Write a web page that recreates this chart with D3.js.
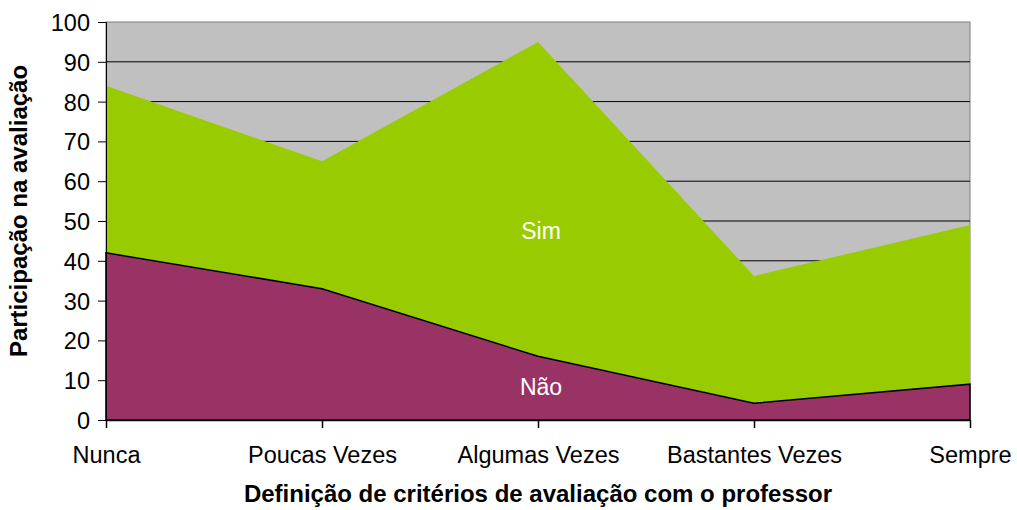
<!DOCTYPE html>
<html>
<head>
<meta charset="utf-8">
<script src="https://cdn.jsdelivr.net/npm/d3@7"></script>
<style>
  body { margin: 0; background: #fff; }
  text { font-family: "Liberation Sans", Arial, sans-serif; }
</style>
</head>
<body>
<div id="chart"></div>
<script>
// Chart data
const categories = ['Nunca', 'Poucas Vezes', 'Algumas Vezes', 'Bastantes Vezes', 'Sempre'];
const naoValues = [42, 33, 16, 4.2, 9];
const simValues = [42, 32, 79, 32, 40];
const yTicks = [0, 10, 20, 30, 40, 50, 60, 70, 80, 90, 100];

const w = 1017;
const h = 510;
const plotLeft = 106, plotRight = 970, plotTop = 22, plotBottom = 420;

const svg = d3.select('#chart')
  .append('svg')
  .attr('width', w)
  .attr('height', h);

const xscale = d3.scalePoint().domain(categories).range([plotLeft, plotRight]);
const yscale = d3.scaleLinear().domain([0, 100]).range([plotBottom, plotTop]);

// plot background
svg.append('rect')
  .attr('x', plotLeft).attr('y', plotTop)
  .attr('width', plotRight - plotLeft).attr('height', plotBottom - plotTop)
  .attr('fill', '#c0c0c0')
  .attr('stroke', '#808080')
  .attr('stroke-width', 1);

// gridlines
svg.append('g')
  .selectAll('line')
  .data(yTicks.filter((t) => t > 0 && t < 100))
  .enter()
  .append('line')
  .attr('x1', plotLeft).attr('x2', plotRight)
  .attr('y1', (d) => yscale(d)).attr('y2', (d) => yscale(d))
  .attr('stroke', '#000')
  .attr('stroke-width', 1);

// stacked areas
const rows = categories.map((c, i) => ({ cat: c, nao: naoValues[i], sim: simValues[i] }));
const stack = d3.stack().keys(['nao', 'sim'])(rows);
const colors = { nao: '#993366', sim: '#99cc00' };

const area = d3.area()
  .x((d) => xscale(d.data.cat))
  .y0((d) => yscale(d[0]))
  .y1((d) => yscale(d[1]));

svg.append('g')
  .selectAll('path')
  .data(stack.slice().reverse())
  .enter()
  .append('path')
  .attr('d', area)
  .attr('fill', (d) => colors[d.key])
  .attr('stroke', (d) => (d.key === 'nao' ? '#000' : 'none'))
  .attr('stroke-width', 1.5);

// area labels
svg.append('text')
  .attr('x', xscale('Algumas Vezes') + 3)
  .attr('y', 239)
  .attr('text-anchor', 'middle')
  .attr('fill', '#fff')
  .style('font-size', '23px')
  .text('Sim');
svg.append('text')
  .attr('x', xscale('Algumas Vezes') + 3)
  .attr('y', 395)
  .attr('text-anchor', 'middle')
  .attr('fill', '#fff')
  .style('font-size', '23px')
  .text('Não');

// axes
const yAxis = d3.axisLeft(yscale).tickValues(yTicks).tickSize(8).tickPadding(8);
const yg = svg.append('g')
  .attr('transform', 'translate(' + plotLeft + ', 0)')
  .call(yAxis);
yg.selectAll('text').style('font-size', '23.5px').attr('fill', '#000').attr('dy', '0.36em');
yg.selectAll('line, path').attr('stroke', '#000');

const xAxis = d3.axisBottom(xscale).tickSize(8).tickSizeOuter(0).tickPadding(18);
const xg = svg.append('g')
  .attr('transform', 'translate(0, ' + plotBottom + ')')
  .call(xAxis);
xg.selectAll('text').style('font-size', '23.5px').attr('fill', '#000');
xg.selectAll('line, path').attr('stroke', '#000').attr('stroke-width', 1.5);

// axis titles
svg.append('text')
  .attr('transform', 'translate(27, 211) rotate(-90)')
  .attr('text-anchor', 'middle')
  .style('font-size', '24px')
  .style('font-weight', 'bold')
  .text('Participação na avaliação');

svg.append('text')
  .attr('x', 538)
  .attr('y', 502)
  .attr('text-anchor', 'middle')
  .style('font-size', '24px')
  .style('font-weight', 'bold')
  .text('Definição de critérios de avaliação com o professor');
</script>
</body>
</html>
